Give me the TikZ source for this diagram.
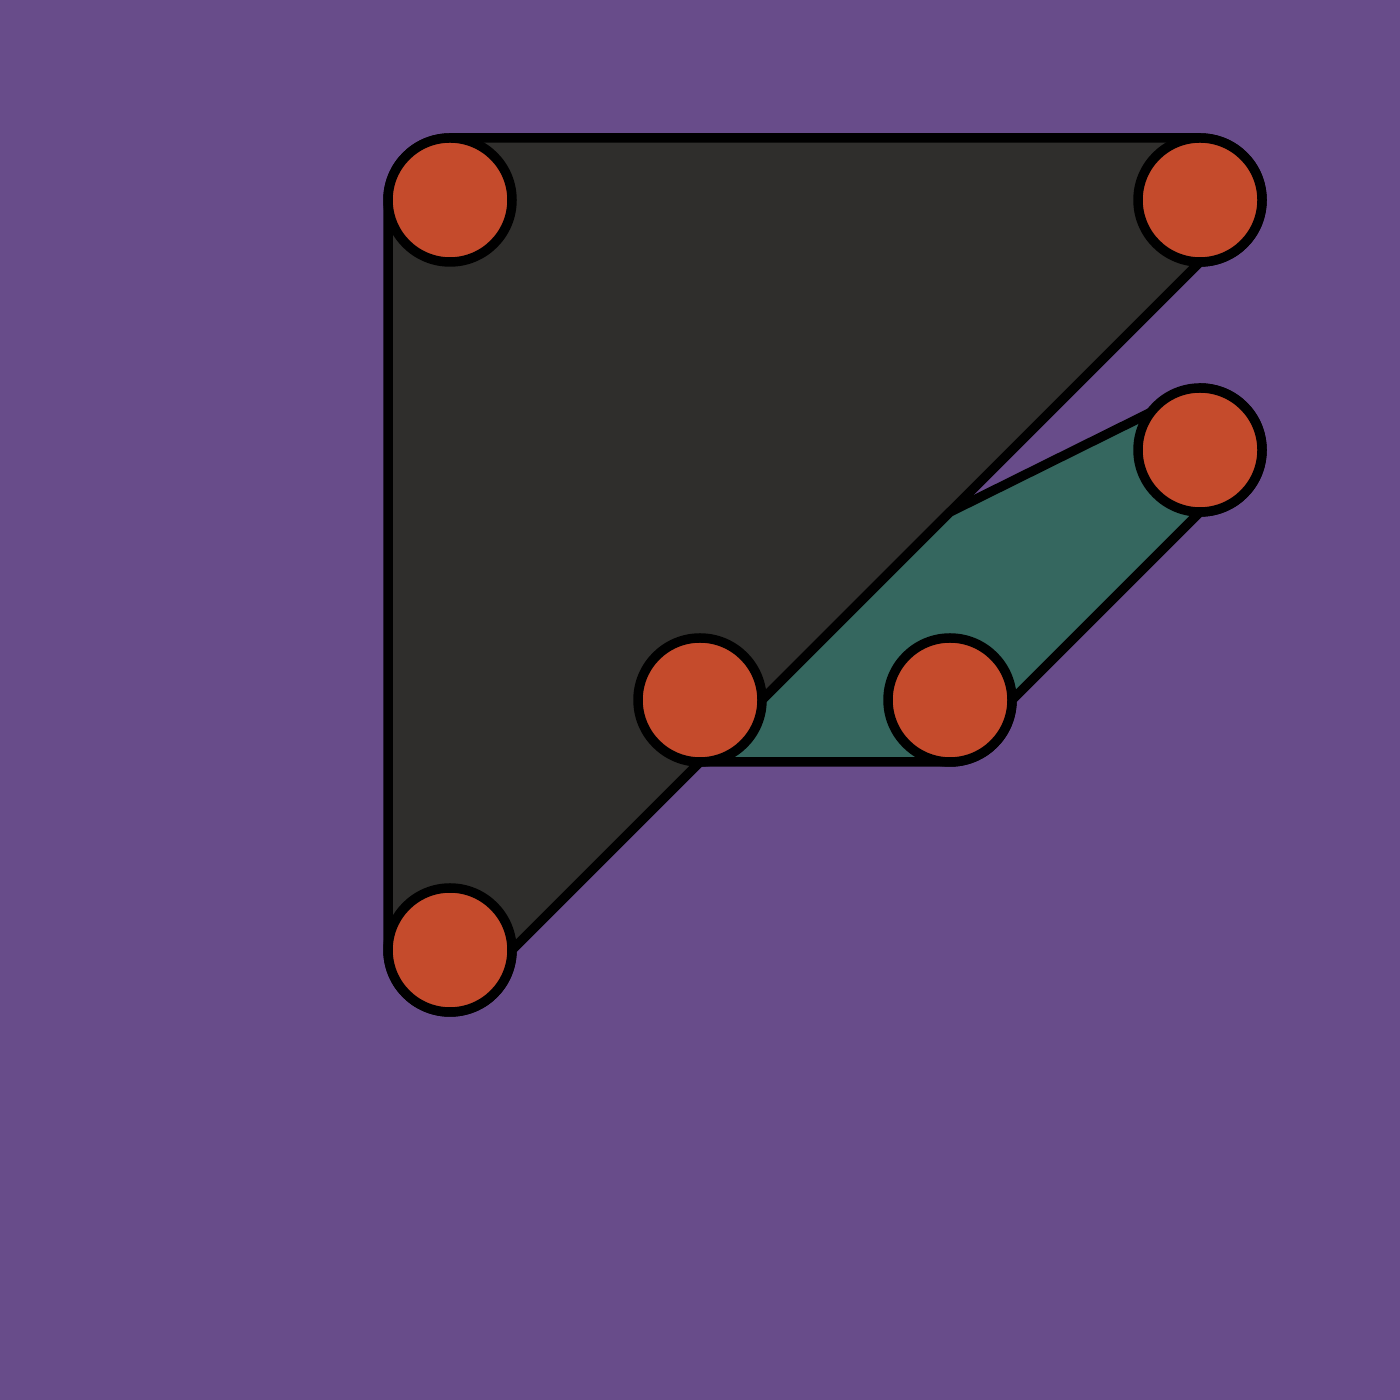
\documentclass[tikz,border=0pt]{standalone}
\definecolor{bgpurple}{HTML}{684C8A}
\definecolor{darkfill}{HTML}{2F2E2C}
\definecolor{greenfill}{HTML}{35675F}
\definecolor{dotorange}{HTML}{C54B2C}
\tikzset{
  dot/.style={circle, draw=black, fill=dotorange, minimum size=124pt, inner sep=0pt, outer sep=0pt},
  hull/.style={draw=black, line join=round}
}
\begin{document}
\begin{tikzpicture}[x=1pt,y=1pt,line width=9.5pt]
\fill[bgpurple] (0,0) rectangle (1400,1400);
\useasboundingbox (0,0) rectangle (1400,1400);
% dark triangle hull
\draw[hull, fill=darkfill] (450,1262) -- (1200,1262)
  arc[start angle=90, end angle=-90, radius=62] -- (512,450)
  arc[start angle=0, end angle=-180, radius=62] -- (388,1200)
  arc[start angle=180, end angle=90, radius=62] -- cycle;
% green hull
\draw[hull, fill=greenfill] (950,888) -- (1200,1012)
  arc[start angle=90, end angle=-90, radius=62] -- (1012,700)
  arc[start angle=0, end angle=-90, radius=62] -- (700,638) -- cycle;
% vertices
\node[dot] (a) at (450,1200) {};
\node[dot] (b) at (1200,1200) {};
\node[dot] (c) at (1200,950) {};
\node[dot] (d) at (700,700) {};
\node[dot] (e) at (950,700) {};
\node[dot] (f) at (450,450) {};
\end{tikzpicture}
\end{document}
